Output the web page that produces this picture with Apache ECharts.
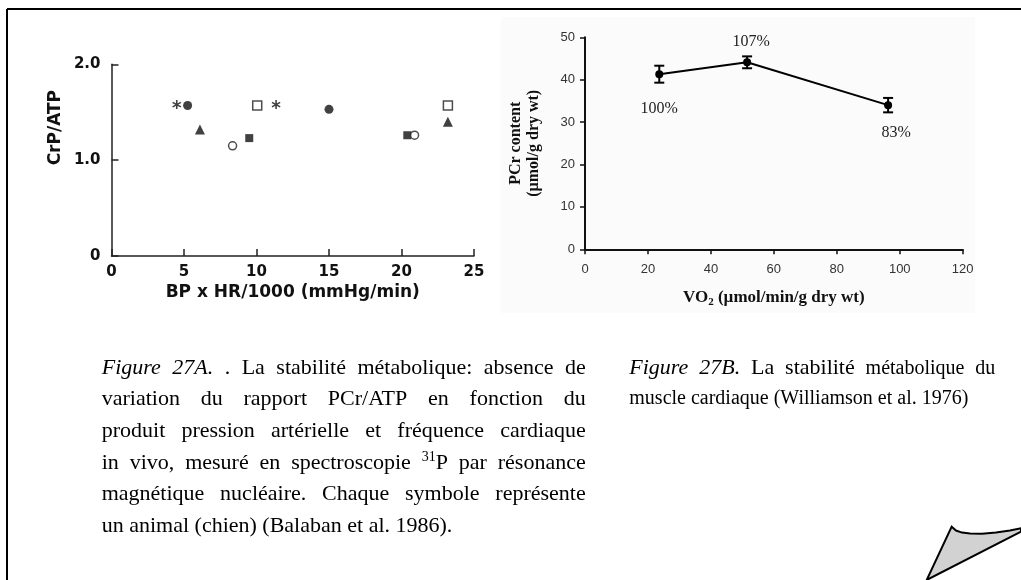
<!DOCTYPE html>
<html>
<head>
<meta charset="utf-8">
<script src="https://cdn.jsdelivr.net/npm/echarts@6/dist/echarts.min.js"></script>
<style>
html, body { margin: 0; padding: 0; background: #fff; }
#main { width: 1021px; height: 580px; }
</style>
</head>
<body>
<div id="main"></div>
<script>
// Figure 27A : CrP/ATP vs BP x HR/1000, one symbol per animal
var starPts = [[4.5, 1.58], [11.35, 1.58]];
var dotPts = [[5.25, 1.57], [15.0, 1.53]];
var triPts = [[6.1, 1.32], [23.2, 1.40]];
var squarePts = [[9.5, 1.23], [20.4, 1.26]];
var ringPts = [[8.35, 1.15], [20.9, 1.26]];
var boxPts = [[10.05, 1.57], [23.2, 1.57]];

// Figure 27B : PCr content vs VO2 (mean +/- err)
var vo2 = [23.6, 51.5, 96.3];
var pcr = [41.3, 44.1, 34.0];
var pcrErr = [2.0, 1.4, 1.7];
var pctLabels = ['100%', '107%', '83%'];
var pctOffsets = [[0, 35], [4, -21], [8, 28]];

// captions
var capA = [
    '_Figure _27A. . La stabilité métabolique: absence de',
    'variation du rapport PCr/ATP en fonction du',
    'produit pression artérielle et fréquence cardiaque',
    'in vivo, mesuré en spectroscopie ^31^P par résonance',
    'magnétique nucléaire. Chaque symbole représente',
    'un animal (chien) (Balaban et al. 1986).'
];
var capB = [
    '_Figure _27B. La stabilité ~métabolique ~du',
    '~muscle ~cardiaque ~(Williamson ~et ~al. ~1976)'
];

var SERIF = '"Liberation Serif", "Times New Roman", serif';
var SANS_B = '"DejaVu Sans", sans-serif';

var starPath = 'path://M-1,-6L1,-6L1,6L-1,6Z' +
    'M-5.696,-2.134L-4.696,-3.866L5.696,2.134L4.696,3.866Z' +
    'M4.696,-3.866L5.696,-2.134L-4.696,3.866L-5.696,2.134Z';

var measureCtx = document.createElement('canvas').getContext('2d');
function textWidth(t, font) {
    measureCtx.font = font;
    return measureCtx.measureText(t).width;
}

// lays out a justified paragraph word by word
function captionTexts(lines, x0, width, y0, lh, size, smallSize) {
    var out = [];
    for (var i = 0; i < lines.length; i++) {
        var words = lines[i].split(' ').map(function (tok) {
            var it = false, sz = size;
            while (tok.charAt(0) === '_' || tok.charAt(0) === '~') {
                if (tok.charAt(0) === '_') it = true; else sz = smallSize;
                tok = tok.slice(1);
            }
            var runs = [];
            if (tok.indexOf('^') >= 0) {
                var parts = tok.split('^');
                runs.push({ text: parts[1], size: Math.round(sz * 0.62), dy: -8, it: it });
                runs.push({ text: parts[2], size: sz, dy: 0, it: it });
            } else {
                runs.push({ text: tok, size: sz, dy: 0, it: it });
            }
            var w = 0;
            runs.forEach(function (r) {
                r.font = (r.it ? 'italic ' : '') + r.size + 'px ' + SERIF;
                r.w = textWidth(r.text, r.font);
                w += r.w;
            });
            return { runs: runs, w: w };
        });
        var total = 0;
        words.forEach(function (w) { total += w.w; });
        var gap = (i < lines.length - 1 && words.length > 1)
            ? (width - total) / (words.length - 1)
            : textWidth(' ', words[0].runs[0].font);
        var x = x0;
        var base = y0 + i * lh;
        words.forEach(function (w) {
            w.runs.forEach(function (r) {
                out.push({
                    type: 'text', silent: true,
                    x: x, y: base - 0.33 * r.size + r.dy,
                    style: {
                        text: r.text, font: r.font, fill: '#000',
                        textAlign: 'left', align: 'left',
                        textVerticalAlign: 'middle', verticalAlign: 'middle'
                    }
                });
                x += r.w;
            });
            x += gap;
        });
    }
    return out;
}

var chart = echarts.init(document.getElementById('main'));

var graphics = [
    { type: 'rect', silent: true, z: -10, shape: { x: 501, y: 17, width: 474, height: 296 }, style: { fill: '#fbfbfb' } },
    { type: 'line', silent: true, shape: { x1: 7, y1: 9, x2: 1021, y2: 9 }, style: { stroke: '#000', lineWidth: 2 } },
    { type: 'line', silent: true, shape: { x1: 7, y1: 9, x2: 7, y2: 580 }, style: { stroke: '#000', lineWidth: 2 } },
    {
        type: 'polygon', silent: true,
        shape: {
            points: [[951.7, 526.7], [956, 530.5], [962, 532.6], [970, 533.6], [982, 533.8],
                [996, 532.6], [1010, 530.5], [1021, 528.3], [1021, 531.7], [926.7, 580]]
        },
        style: { fill: '#d2d2d2', stroke: '#000', lineWidth: 2 }
    }
].concat(
    captionTexts(capA, 101.7, 484, 375, 31.7, 22, 20),
    captionTexts(capB, 629.3, 366, 375, 30, 22, 20)
);

var leftAxisLabel = { fontFamily: SANS_B, fontWeight: 'bold', fontSize: 15, color: '#111' };

var option = {
    animation: false,
    backgroundColor: '#fff',
    grid: [
        { left: 111.5, top: 64.3, width: 362.5, height: 191.7 },
        { left: 585, top: 37.3, width: 377.7, height: 212 }
    ],
    xAxis: [
        {
            gridIndex: 0, type: 'value', min: 0, max: 25, interval: 5,
            name: 'BP x HR/1000 (mmHg/min)', nameLocation: 'middle', nameGap: 28,
            nameTextStyle: { fontFamily: SANS_B, fontWeight: 'bold', fontSize: 17, color: '#111' },
            axisLine: { lineStyle: { color: '#222', width: 1.5 } },
            axisTick: { inside: true, length: 7, lineStyle: { color: '#222', width: 1.5 } },
            axisLabel: Object.assign({ margin: 9 }, leftAxisLabel),
            splitLine: { show: false }
        },
        {
            gridIndex: 1, type: 'value', min: 0, max: 120, interval: 20,
            name: '{b|VO}{s|2}{b| (µmol/min/g dry wt)}', nameLocation: 'middle', nameGap: 39,
            nameTextStyle: {
                rich: {
                    b: { fontFamily: SERIF, fontWeight: 'bold', fontSize: 17, color: '#111' },
                    s: { fontFamily: SERIF, fontWeight: 'bold', fontSize: 11, color: '#111', padding: [8, 0, 0, 0] }
                }
            },
            axisLine: { lineStyle: { color: '#111', width: 2 } },
            axisTick: { length: 5, lineStyle: { color: '#111', width: 1.5 } },
            axisLabel: { margin: 14, fontFamily: 'Liberation Sans, Arial, sans-serif', fontSize: 13, color: '#333' },
            splitLine: { show: false }
        }
    ],
    yAxis: [
        {
            gridIndex: 0, type: 'value', min: 0, max: 2, interval: 1,
            name: 'CrP/ATP', nameLocation: 'middle', nameGap: 47,
            nameTextStyle: { fontFamily: SANS_B, fontWeight: 'bold', fontSize: 17, color: '#111', padding: [0, 0, 0, 65] },
            axisLine: { show: true, lineStyle: { color: '#222', width: 1.5 } },
            axisTick: { show: true, inside: true, length: 7, lineStyle: { color: '#222', width: 1.5 } },
            axisLabel: Object.assign({
                margin: 11,
                formatter: function (v) { return v === 0 ? '0' : v.toFixed(1); }
            }, leftAxisLabel),
            splitLine: { show: false }
        },
        {
            gridIndex: 1, type: 'value', min: 0, max: 50, interval: 10,
            name: 'PCr content\n(µmol/g dry wt)', nameLocation: 'middle', nameGap: 42,
            nameTextStyle: { fontFamily: SERIF, fontWeight: 'bold', fontSize: 16, color: '#111', lineHeight: 18 },
            axisLine: { show: true, lineStyle: { color: '#111', width: 2 } },
            axisTick: { show: true, length: 5, lineStyle: { color: '#111', width: 1.5 } },
            axisLabel: { margin: 10, fontFamily: 'Liberation Sans, Arial, sans-serif', fontSize: 13, color: '#333' },
            splitLine: { show: false }
        }
    ],
    series: [
        { type: 'scatter', xAxisIndex: 0, yAxisIndex: 0, data: starPts, symbol: starPath, symbolSize: 9, itemStyle: { color: '#111' } },
        { type: 'scatter', xAxisIndex: 0, yAxisIndex: 0, data: dotPts, symbol: 'circle', symbolSize: 9, itemStyle: { color: '#111' } },
        { type: 'scatter', xAxisIndex: 0, yAxisIndex: 0, data: triPts, symbol: 'triangle', symbolSize: 10, itemStyle: { color: '#111' } },
        { type: 'scatter', xAxisIndex: 0, yAxisIndex: 0, data: squarePts, symbol: 'rect', symbolSize: 8, itemStyle: { color: '#111' } },
        { type: 'scatter', xAxisIndex: 0, yAxisIndex: 0, data: ringPts, symbol: 'circle', symbolSize: 8, itemStyle: { color: '#fff', borderColor: '#222', borderWidth: 1.5 } },
        { type: 'scatter', xAxisIndex: 0, yAxisIndex: 0, data: boxPts, symbol: 'rect', symbolSize: 9, itemStyle: { color: '#fff', borderColor: '#222', borderWidth: 1.5 } },
        {
            type: 'custom', xAxisIndex: 1, yAxisIndex: 1,
            data: vo2.map(function (x, i) { return [x, pcr[i] - pcrErr[i], pcr[i] + pcrErr[i]]; }),
            renderItem: function (params, api) {
                var lo = api.coord([api.value(0), api.value(1)]);
                var hi = api.coord([api.value(0), api.value(2)]);
                var w = 5;
                var st = { stroke: '#000', lineWidth: 2 };
                return {
                    type: 'group', children: [
                        { type: 'line', shape: { x1: lo[0], y1: lo[1], x2: hi[0], y2: hi[1] }, style: st },
                        { type: 'line', shape: { x1: lo[0] - w, y1: lo[1], x2: lo[0] + w, y2: lo[1] }, style: st },
                        { type: 'line', shape: { x1: hi[0] - w, y1: hi[1], x2: hi[0] + w, y2: hi[1] }, style: st }
                    ]
                };
            }
        },
        {
            type: 'line', xAxisIndex: 1, yAxisIndex: 1,
            data: vo2.map(function (x, i) {
                return {
                    value: [x, pcr[i]],
                    label: { show: true, position: 'inside', offset: pctOffsets[i], formatter: pctLabels[i] }
                };
            }),
            symbol: 'circle', symbolSize: 8,
            lineStyle: { color: '#000', width: 2 },
            itemStyle: { color: '#000' },
            label: { fontFamily: SERIF, fontSize: 16, color: '#222' },
            z: 3
        }
    ],
    graphic: graphics
};

chart.setOption(option);
</script>
</body>
</html>
